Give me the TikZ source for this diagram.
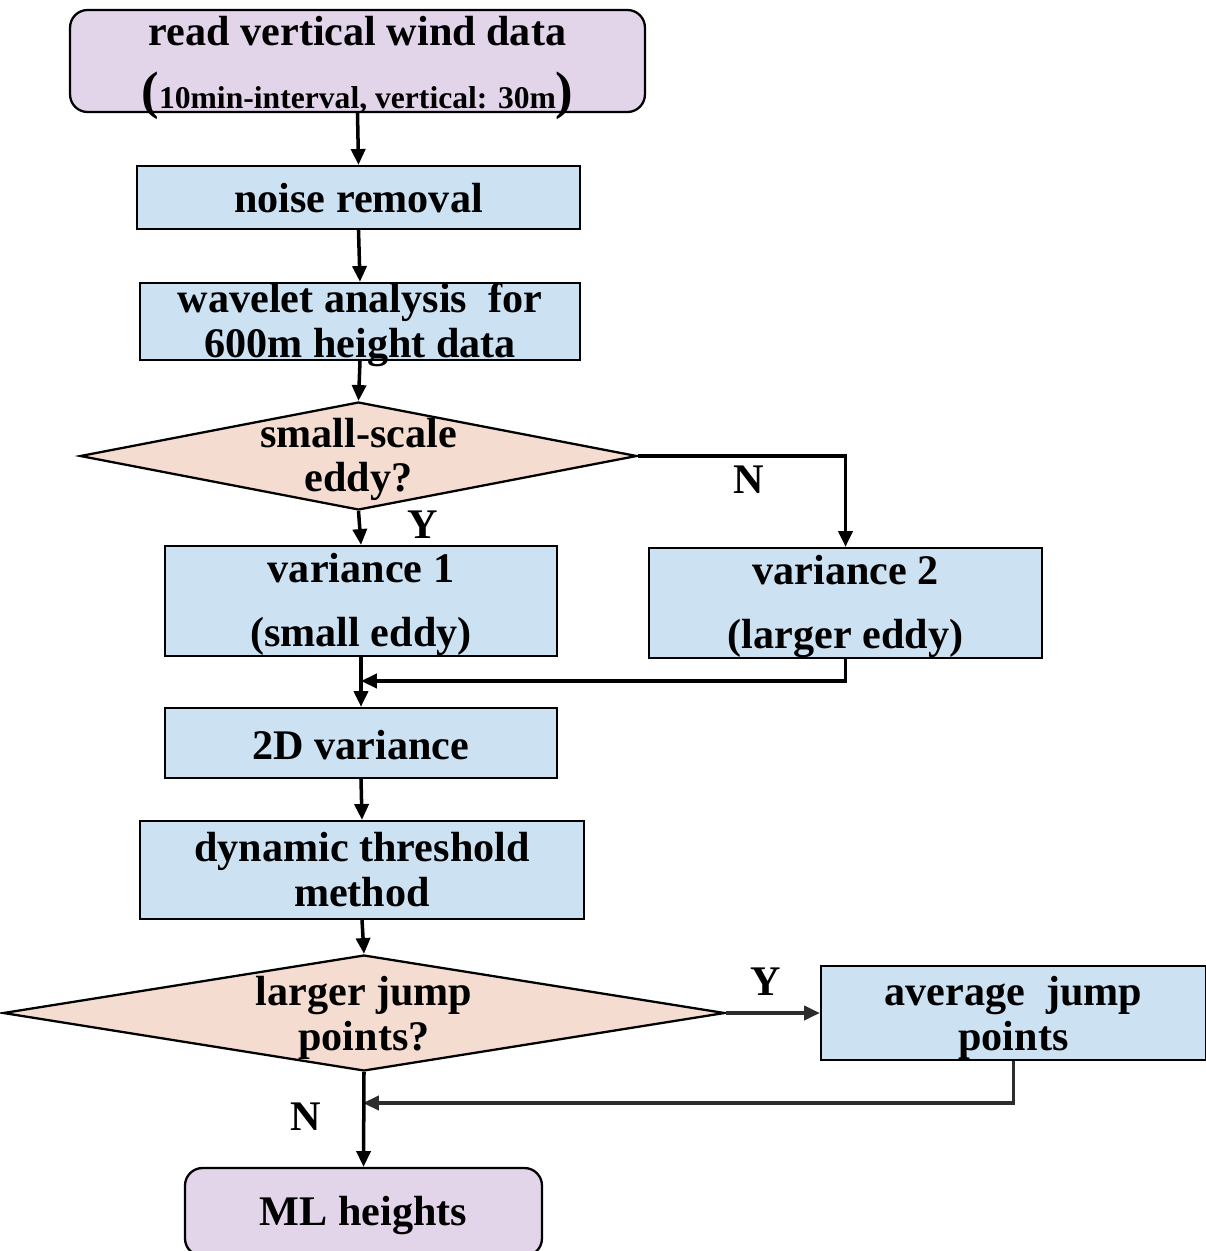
\documentclass[tikz,border=0pt]{standalone}
\usepackage{fontspec}
\setmainfont{Liberation Serif}
\usetikzlibrary{arrows.meta,shapes.geometric}
\definecolor{startfill}{RGB}{226,213,234}
\definecolor{procfill}{RGB}{204,225,241}
\definecolor{decfill}{RGB}{244,221,208}
\definecolor{darkline}{RGB}{45,45,45}
\newcommand\myup[1]{\rule{0pt}{#1}}
\tikzset{
  procbox/.style={rectangle, draw=black, line width=1.3pt, fill=procfill, inner xsep=0pt, inner ysep=-20pt, align=center,
    font=\fontsize{24}{25.6}\selectfont\bfseries},
  termbox/.style={rectangle, rounded corners=0.35cm, draw=black, line width=1.3pt, fill=startfill, inner xsep=0pt, inner ysep=-20pt, align=center,
    font=\fontsize{24}{36}\selectfont\bfseries},
  decbox/.style={diamond, draw=black, line width=1.3pt, fill=decfill, inner sep=0pt},
  dectext/.style={align=center, font=\fontsize{24}{25.2}\selectfont\bfseries},
  yn/.style={font=\fontsize{24}{26}\selectfont\bfseries, inner sep=0pt},
  conn/.style={line width=2pt, -{Triangle[length=9pt,width=8pt]}},
}
\begin{document}
\begin{tikzpicture}[x=0.02cm,y=-0.02cm]
\useasboundingbox (0,0) rectangle (1206,1251);
\clip (0,0) rectangle (1206,1251);

\node[termbox, minimum width=11.5cm, minimum height=2.04cm] (start) at (357.5,61)
  {\myup{24.5pt}read vertical wind data\\{\fontsize{30}{30}\selectfont(}{\fontsize{18}{20}\selectfont 10min-interval, vertical: 30m}{\fontsize{30}{30}\selectfont)}};
\node[procbox, minimum width=8.86cm, minimum height=1.26cm] (noise) at (358.5,197.5) {\myup{17.4pt}noise removal};
\node[procbox, minimum width=8.8cm, minimum height=1.54cm] (wave) at (360,321.5) {\myup{20.9pt}wavelet analysis~~for\\600m height data};
\node[decbox, minimum width=11.14cm, minimum height=2.16cm,
  label={[dectext]center:\myup{20.9pt}small-scale\\eddy?}] (d1) at (358.5,456) {};
\node[procbox, minimum width=7.84cm, minimum height=2.2cm, font=\fontsize{24}{36.4}\selectfont\bfseries] (v1) at (361,601) {\myup{20.8pt}variance 1\\(small eddy)};
\node[procbox, minimum width=7.86cm, minimum height=2.2cm, font=\fontsize{24}{36.4}\selectfont\bfseries] (v2) at (845.5,603) {\myup{20.8pt}variance 2\\(larger eddy)};
\node[procbox, minimum width=7.84cm, minimum height=1.4cm] (var2d) at (361,743) {\myup{18.6pt}2D variance};
\node[procbox, minimum width=8.88cm, minimum height=1.96cm] (dyn) at (362,870) {dynamic threshold\\method};
\node[decbox, minimum width=14.44cm, minimum height=2.32cm,
  label={[dectext, font=\fontsize{24}{25.6}\selectfont\bfseries]center:\myup{22pt}larger jump\\points?}] (d2) at (364,1013) {};
\node[procbox, minimum width=7.7cm, minimum height=1.88cm] (avg) at (1013.5,1013) {\myup{22pt}average~~jump\\points};
\node[termbox, minimum width=7.14cm, minimum height=1.76cm] (ml) at (363.5,1212) {\myup{20.9pt}ML heights};

\node[yn] (ylab1) at (423,525) {Y};
\node[yn] (nlab1) at (749,480) {N};
\node[yn] (ylab2) at (766,982) {Y};
\node[yn] (nlab2) at (306,1117) {N};

\coordinate (join1) at (361,681);
\coordinate (join2) at (363,1103);

\draw[conn] (start.south) -- (noise.north);
\draw[conn] (noise.south) -- (wave.north);
\draw[conn] (wave.south) -- (d1.north);
\draw[conn] (d1.south) -- (v1.north);
\draw[conn] (d1.east) -| (v2.north);
\draw[conn] (v1.south) -- (var2d.north);
\draw[conn] (v2.south) |- (join1);
\draw[conn] (var2d.south) -- (dyn.north);
\draw[conn] (dyn.south) -- (d2.north);
\draw[conn, draw=darkline, fill=darkline] (d2.east) -- (avg.west);
\draw[conn, draw=darkline] (avg.south) |- (join2);
\draw[conn] (d2.south) -- (ml.north);
\end{tikzpicture}
\end{document}
